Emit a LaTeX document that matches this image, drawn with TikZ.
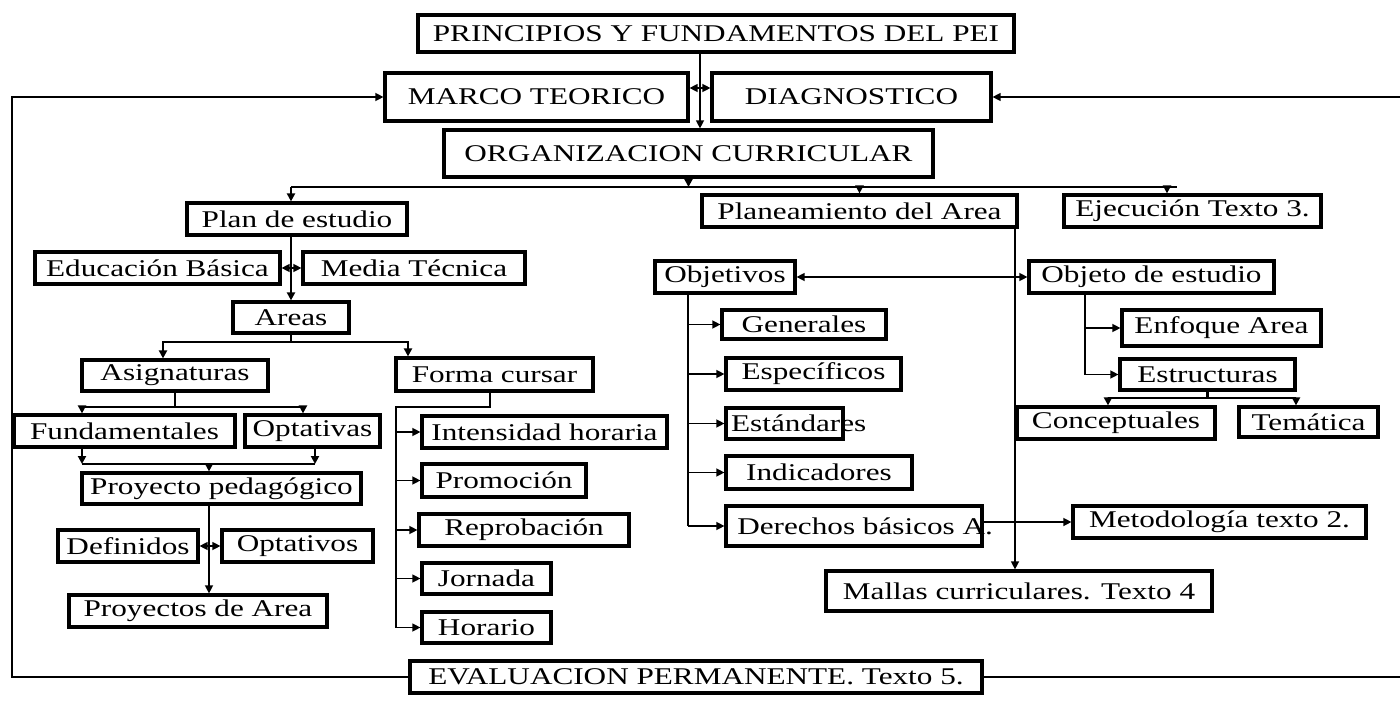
\documentclass[tikz,border=0pt]{standalone}
\usepackage{fontspec}
\setmainfont{Liberation Serif}[FakeStretch=1.3]
\usetikzlibrary{arrows.meta}

\tikzset{
  box/.style={draw, line width=2.4pt, inner xsep=0pt, inner ysep=1pt, font=\fontsize{18}{20}\selectfont},
  sz/.style 2 args={minimum width=#1pt, minimum height=#2pt},
  link/.style={line width=1pt},
  trunk/.style={line width=1.8pt},
}
\newcommand{\fitl}[2]{\makebox[#1][l]{#2}}

\begin{document}
\begin{tikzpicture}[x=0.75pt,y=0.75pt,yscale=-1,xscale=1,>={Triangle[length=6pt,width=6pt]}]
      \useasboundingbox (0,0) rectangle (1400,728);

      % Text Node
      \node [box, sz={447}{27.75}] (princ) at (716,33.5) {PRINCIPIOS Y FUNDAMENTOS DEL PEI};
      \node [box, sz={227.25}{36}] (marco) at (536.5,97) {MARCO TEORICO};
      \node [box, sz={209.25}{36}] (diag) at (851.5,97) {DIAGNOSTICO};
      \node [box, sz={366.75}{35.25}] (org) at (688.5,153.5) {ORGANIZACION CURRICULAR};
      \node [box, sz={165}{24}] (plan) at (297,219) {Plan de estudio};
      \node [box, sz={236.25}{24}] (planea) at (859.5,211) {Planeamiento del Area};
      \node [box, sz={192.75}{24}] (ejec) at (1192.5,211) {Ejecución Texto 3.};
      % Text Node
      \node [box, sz={183.75}{24}] (edu) at (157.5,268) {Educación Básica};
      \node [box, sz={166.5}{24}] (media) at (414,268) {Media Técnica};
      \node [box, sz={87}{23.25}] (areas) at (291,317.5) {Areas};
      \node [box, sz={139.5}{23.25}] (asig) at (175,375.5) {Asignaturas};
      \node [box, sz={147.75}{24.75}] (forma) at (494.5,374.5) {Forma cursar};
      \node [box, sz={165.75}{24}] (fund) at (124.5,431) {Fundamentales};
      \node [box, sz={101.25}{24}] (optas) at (312.5,431) {Optativas};
      \node [box, sz={209.25}{23.25}] (proyped) at (221.5,488.5) {Proyecto pedagógico};
      \node [box, sz={105}{24}] (defin) at (128,546) {Definidos};
      \node [box, sz={113.25}{24}] (optos) at (297.5,546) {Optativos};
      \node [box, sz={193.5}{24}] (proyarea) at (198,611) {Proyectos de Area};
      % Text Node
      \node [box, sz={183.75}{24}] (intens) at (544.5,432) {Intensidad horaria};
      \node [box, sz={123}{24.75}] (promo) at (504,480.5) {Promoción};
      \node [box, sz={157.5}{24}] (reprob) at (524,530) {Reprobación};
      \node [box, sz={96.75}{23.25}] (jorn) at (486.5,578.5) {Jornada};
      \node [box, sz={96.75}{23.25}] (hora) at (486.5,627.5) {Horario};
      % Text Node
      \node [box, sz={105}{24}] (objv) at (725,277) {Objetivos};
      \node [box, sz={123}{21.75}] (gen) at (804,324.5) {Generales};
      \node [box, sz={131.25}{24}] (espec) at (813.5,374) {Específicos};
      \node [box, sz={87.75}{23.25}] (estand) at (784.5,423.5) {\fitl{80pt}{Estándares}};
      \node [box, sz={139.5}{24.75}] (indic) at (819,472.5) {Indicadores};
      \node [box, sz={192}{30}] (derech) at (854,526) {\fitl{185pt}{\hspace{5pt}Derechos básicos A.}};
      \node [box, sz={219.75}{24}] (metod) at (1219.5,522) {Metodología texto 2.};
      \node [box, sz={289.5}{30}] (mallas) at (1019,591) {Mallas curriculares. Texto 4};
      % Text Node
      \node [box, sz={183.75}{24}] (objt) at (1151.5,277) {Objeto de estudio};
      \node [box, sz={149.25}{27}] (enfoq) at (1221.5,328) {Enfoque Area};
      \node [box, sz={131.25}{23.25}] (estruc) at (1207.5,374.5) {Estructuras};
      \node [box, sz={148.5}{24}] (concep) at (1116,423) {Conceptuales};
      \node [box, sz={104.25}{22.5}] (temat) at (1308.5,422) {Temática};
      \node [box, sz={429}{24}] (eval) at (696,677) {EVALUACION PERMANENTE. Texto 5.};

      %Straight Lines
      \coordinate (pj) at (700,88);
      \draw [link,->] (princ.south -| pj) -- (org.north -| pj);
      \draw [link,->] (pj) -- (marco.east |- pj);
      \draw [link,->] (pj) -- (diag.west |- pj);
      %Straight Lines
      \coordinate (fbl) at (12,97);
      \coordinate (fbr) at (1400,97);
      \draw [link,->] (eval.west) -| (fbl) -- (marco.west);
      \draw [link] (eval.east) -- (eval.east -| fbr);
      \draw [link,->] (fbr) -- (diag.east);
      %Straight Lines
      \coordinate (tb) at (688,187);
      \coordinate (tbl) at (291,187);
      \coordinate (tbr) at (1177,187);
      \coordinate (tbe) at (1167,187);
      \draw [trunk,->] (org.south) -- (org.south |- tb);
      \draw [trunk] (tbl) -- (tbr);
      \draw [trunk,->] (tbl) -- (tbl |- plan.north);
      \draw [trunk,->] (planea.north |- tb) -- (planea.north);
      \draw [trunk,->] (tbe) -- (tbe |- ejec.north);
      %Straight Lines
      \coordinate (pj1) at (291,268);
      \draw [trunk,->] (areas.north |- plan.south) -- (areas.north);
      \draw [link,->] (pj1) -- (edu.east);
      \draw [link,->] (pj1) -- (media.west);
      \coordinate (abl) at (163,342);
      \coordinate (abr) at (408,342);
      \draw [trunk] (areas.south) -- (areas.south |- abl);
      \draw [trunk,<->] (abl |- asig.north) -- (abl) -- (abr) -- (abr |- forma.north);
      %Straight Lines
      \coordinate (sbl) at (82,407);
      \coordinate (sbr) at (303,407);
      \draw [trunk] (asig.south) -- (asig.south |- sbl);
      \draw [trunk,<->] (sbl |- fund.north) -- (sbl) -- (sbr) -- (sbr |- optas.north);
      \coordinate (pbl) at (82,464);
      \coordinate (pbr) at (315,464);
      \coordinate (pbc) at (209,464);
      \draw [trunk,->] (pbl |- fund.south) -- (pbl);
      \draw [trunk,->] (pbr |- optas.south) -- (pbr);
      \draw [trunk] (pbl) -- (pbr);
      \draw [trunk,->] (pbc) -- (pbc |- proyped.north);
      \coordinate (pj2) at (209,546);
      \draw [link,->] (pj2 |- proyped.south) -- (pj2 |- proyarea.north);
      \draw [link,->] (pj2) -- (defin.east);
      \draw [link,->] (pj2) -- (optos.west);
      %Straight Lines
      \coordinate (fk) at (490,407);
      \coordinate (fv) at (396,407);
      \draw [trunk] (fk |- forma.south) -- (fk) -- (fv) -- (fv |- hora.west);
      \foreach \n in {intens,promo,reprob,jorn,hora}
        \draw [link,->] (fv |- \n.west) -- (\n.west);
      %Straight Lines
      \coordinate (ov) at (688,293);
      \draw [trunk] (ov |- objv.south) -- (ov |- derech.west);
      \foreach \n in {gen,espec,estand,indic,derech}
        \draw [link,->] (ov |- \n.west) -- (\n.west);
      \draw [link,<->] (objv.east) -- (objt.west);
      \coordinate (mv) at (1015,227);
      \draw [link,->] (mv |- planea.south) -- (mv |- mallas.north);
      \draw [link,->] (derech.east |- metod.west) -- (metod.west);
      %Straight Lines
      \coordinate (ob) at (1085,293);
      \draw [trunk] (ob |- objt.south) -- (ob |- estruc.west);
      \draw [link,->] (ob |- enfoq.west) -- (enfoq.west);
      \draw [link,->] (ob |- estruc.west) -- (estruc.west);
      \coordinate (ebl) at (1108,398);
      \coordinate (ebr) at (1296,398);
      \draw [trunk] (estruc.south) -- (estruc.south |- ebl);
      \draw [trunk,<->] (ebl |- concep.north) -- (ebl) -- (ebr) -- (ebr |- temat.north);
    \end{tikzpicture}
\end{document}
